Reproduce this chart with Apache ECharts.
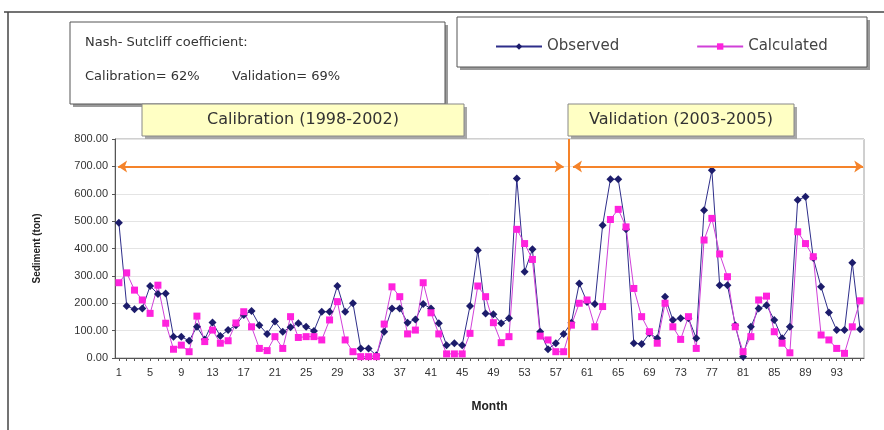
<!DOCTYPE html>
<html>
<head>
<meta charset="utf-8">
<script src="https://cdn.jsdelivr.net/npm/echarts@6/dist/echarts.min.js"></script>
<style>
  html, body { margin: 0; padding: 0; background: #fff; }
  #chart { width: 884px; height: 430px; }
</style>
</head>
<body>
<div id="chart"></div>
<script>
// 月份 1..96
var months = [];
for (var i = 1; i <= 96; i++) months.push(String(i));

// Observed sediment (ton)
var observed = [
  494, 190, 178, 181, 263, 234, 236, 78, 78, 63, 114, 68,
  130, 80, 102, 120, 157, 172, 120, 88, 133, 96, 112, 127,
  114, 99, 169, 169, 263, 169, 200, 35, 35, 10, 96, 181,
  181, 129, 141, 197, 181, 127, 47, 54, 47, 190, 394, 163,
  160, 127, 145, 656, 315, 397, 96, 32, 54, 88, 129, 272,
  205, 197, 485, 653, 653, 470, 54, 51, 90, 72, 224, 139,
  145, 145, 72, 540, 686, 266, 266, 120, 5, 114, 181, 193,
  139, 72, 114, 577, 589, 365, 260, 166, 102, 102, 348, 105
];
// Calculated sediment (ton)
var calculated = [
  275, 311, 248, 212, 163, 266, 127, 32, 47, 23, 153, 60,
  102, 54, 63, 128, 169, 114, 35, 27, 78, 35, 151, 75,
  78, 78, 66, 139, 206, 66, 23, 5, 5, 5, 124, 260,
  224, 88, 102, 275, 165, 88, 15, 15, 15, 90, 263, 224,
  129, 56, 78, 470, 418, 360, 80, 66, 23, 23, 120, 200,
  212, 114, 188, 506, 543, 479, 254, 151, 96, 54, 200, 114,
  68, 151, 35, 431, 510, 380, 297, 114, 23, 78, 212, 226,
  96, 54, 19, 461, 418, 370, 84, 66, 35, 17, 114, 209
];
var yTicks = [0, 100, 200, 300, 400, 500, 600, 700, 800];

// 分期标记 (month position)
var splitMonth = 58.6;
var arrowLevel = 700;

var myChart = echarts.init(document.getElementById('chart'));

var orange = '#f5832a';
var axisFont = 'Liberation Sans, Arial, sans-serif';
var boxFont = 'DejaVu Sans, sans-serif';

var option = {
  animation: false,
  backgroundColor: '#fff',
  grid: {
    left: 115, right: 20, top: 139, bottom: 72,
    show: true, borderColor: '#a0a0a0', borderWidth: 1,
    containLabel: false
  },
  legend: {
    data: ['Observed', 'Calculated'],
    left: 490, top: 34,
    itemGap: 77, itemWidth: 46, itemHeight: 8,
    textStyle: { fontFamily: boxFont, fontSize: 15, color: '#444' }
  },
  xAxis: [{
    type: 'category',
    data: months,
    boundaryGap: true,
    name: 'Month',
    nameLocation: 'middle',
    nameGap: 43,
    nameTextStyle: { fontFamily: axisFont, fontWeight: 'bold', fontSize: 12, color: '#222' },
    axisLine: { lineStyle: { color: '#555' } },
    axisTick: { show: true, interval: 0, length: 3, alignWithLabel: true, lineStyle: { color: '#555' } },
    axisLabel: { interval: 3, fontFamily: axisFont, fontSize: 11, color: '#333', margin: 9 }
  }, {
    // 隐藏的数值轴, 只用来放箭头和分隔线
    type: 'value', min: 0.5, max: 96.5, show: false
  }],
  yAxis: {
    type: 'value',
    min: 0, max: 800, interval: 100,
    name: 'Sediment (ton)',
    nameLocation: 'middle',
    nameGap: 73,
    nameTextStyle: { fontFamily: axisFont, fontWeight: 'bold', fontSize: 10, color: '#222' },
    axisLine: { show: true, lineStyle: { color: '#555' } },
    axisTick: { show: true, length: 3, lineStyle: { color: '#555' } },
    axisLabel: {
      fontFamily: axisFont, fontSize: 11, color: '#333', margin: 7,
      formatter: function (v) { return v.toFixed(2); }
    },
    splitLine: { lineStyle: { color: '#e4e4e4' } }
  },
  series: [{
    name: 'Observed',
    type: 'line',
    data: observed,
    symbol: 'diamond',
    symbolSize: 8,
    showAllSymbol: true,
    itemStyle: { color: '#1c1c6b' },
    lineStyle: { color: '#2e2e8a', width: 1 }
  }, {
    name: 'Calculated',
    type: 'line',
    data: calculated,
    symbol: 'rect',
    symbolSize: 7,
    showAllSymbol: true,
    itemStyle: { color: '#ff22dd' },
    lineStyle: { color: '#d040d8', width: 1 }
  }, {
    name: 'periods',
    type: 'line',
    xAxisIndex: 1,
    data: [],
    silent: true,
    markLine: {
      silent: true,
      symbol: ['arrow', 'arrow'],
      symbolSize: [9, 9],
      label: { show: false },
      lineStyle: { color: orange, width: 2, type: 'solid' },
      data: [
        [{ coord: [0.9, arrowLevel] }, { coord: [58.0, arrowLevel] }],
        [{ coord: [59.2, arrowLevel] }, { coord: [96.4, arrowLevel] }],
        [{ coord: [splitMonth, 0], symbol: 'none' }, { coord: [splitMonth, 800], symbol: 'none' }]
      ]
    }
  }],
  graphic: [
    // 外框
    { type: 'line', shape: { x1: 4, y1: 12, x2: 884, y2: 12 }, style: { stroke: '#444', lineWidth: 1.5 } },
    { type: 'line', shape: { x1: 8, y1: 12, x2: 8, y2: 430 }, style: { stroke: '#444', lineWidth: 1.5 } },
    // Nash-Sutcliffe box
    { type: 'rect', shape: { x: 73, y: 25, width: 375, height: 82 }, style: { fill: '#9a9a9a' }, z: 10 },
    { type: 'rect', shape: { x: 70, y: 22, width: 375, height: 82 }, style: { fill: '#fff', stroke: '#555', lineWidth: 1 }, z: 11 },
    { type: 'text', x: 85, y: 36, style: { text: 'Nash- Sutcliff coefficient:', fontFamily: boxFont, fontSize: 13, fill: '#333' }, z: 12 },
    { type: 'text', x: 85, y: 70, style: { text: 'Calibration= 62%', fontFamily: boxFont, fontSize: 13, fill: '#333' }, z: 12 },
    { type: 'text', x: 232, y: 70, style: { text: 'Validation= 69%', fontFamily: boxFont, fontSize: 13, fill: '#333' }, z: 12 },
    // legend box
    { type: 'rect', shape: { x: 460, y: 20, width: 410, height: 50 }, style: { fill: '#9a9a9a' }, z: 1 },
    { type: 'rect', shape: { x: 457, y: 17, width: 410, height: 50 }, style: { fill: '#fff', stroke: '#555', lineWidth: 1 }, z: 2 },
    // period labels
    { type: 'rect', shape: { x: 145, y: 107, width: 322, height: 32 }, style: { fill: '#a8a8a8' }, z: 10 },
    { type: 'rect', shape: { x: 142, y: 104, width: 322, height: 32 }, style: { fill: '#ffffc4', stroke: '#888', lineWidth: 1 }, z: 11 },
    { type: 'text', x: 303, y: 120, style: { text: 'Calibration (1998-2002)', fontFamily: boxFont, fontSize: 16, fill: '#333', align: 'center', verticalAlign: 'middle' }, z: 12 },
    { type: 'rect', shape: { x: 571, y: 107, width: 226, height: 32 }, style: { fill: '#a8a8a8' }, z: 10 },
    { type: 'rect', shape: { x: 568, y: 104, width: 226, height: 32 }, style: { fill: '#ffffc4', stroke: '#888', lineWidth: 1 }, z: 11 },
    { type: 'text', x: 681, y: 120, style: { text: 'Validation (2003-2005)', fontFamily: boxFont, fontSize: 16, fill: '#333', align: 'center', verticalAlign: 'middle' }, z: 12 }
  ]
};

myChart.setOption(option);
</script>
</body>
</html>
